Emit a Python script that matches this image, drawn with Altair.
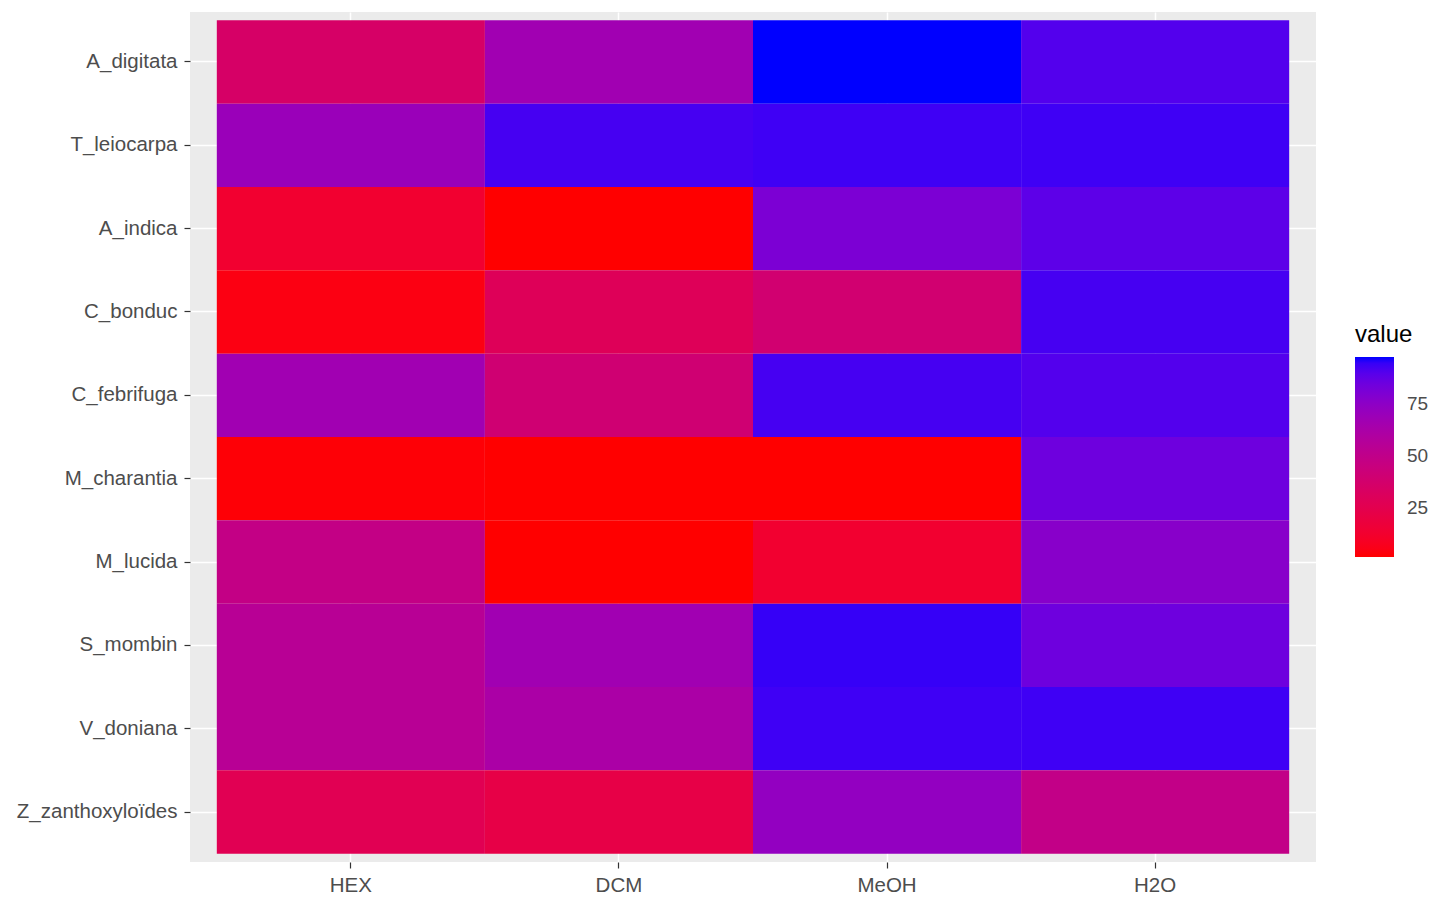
import altair as alt
import pandas as pd

# species (top to bottom) and extract types (left to right)
species = ["A_digitata", "T_leiocarpa", "A_indica", "C_bonduc", "C_febrifuga",
           "M_charantia", "M_lucida", "S_mombin", "V_doniana", "Z_zanthoxyloïdes"]
extracts = ["HEX", "DCM", "MeOH", "H2O"]

hex_vals = [35, 70, 13, 4, 67, 2, 48, 55, 55, 27]
dcm_vals = [67, 93, 1, 29, 40, 1, 1, 67, 62, 22]
meoh_vals = [98, 94, 81, 39, 93, 1, 13, 95, 94, 73]
h2o_vals = [91, 94, 89, 93, 91, 85, 77, 85, 94, 49]

rows = []
for col, vals in zip(extracts, [hex_vals, dcm_vals, meoh_vals, h2o_vals]):
    for sp, v in zip(species, vals):
        rows.append({"variable": col, "species": sp, "value": v})
df = pd.DataFrame(rows)

chart = alt.Chart(df).mark_rect().encode(
    x=alt.X("variable:N", sort=extracts, title=None,
            scale=alt.Scale(paddingInner=0, paddingOuter=0.1),
            axis=alt.Axis(labelAngle=0, bandPosition=0.5, zindex=0)),
    y=alt.Y("species:N", sort=species, title=None,
            scale=alt.Scale(paddingInner=0, paddingOuter=0.1),
            axis=alt.Axis(bandPosition=0.5, zindex=0)),
    color=alt.Color("value:Q",
                    scale=alt.Scale(range=["#FF0000", "#0000FF"], interpolate="lab",
                                    zero=False, nice=False),
                    legend=alt.Legend(title="value", values=[25, 50, 75],
                                      orient="none", legendX=1165, legendY=311,
                                      gradientLength=200, gradientThickness=39,
                                      gradientStrokeWidth=0, titlePadding=10,
                                      titleFontSize=24, titleFontWeight="normal",
                                      titleColor="#000000", labelFontSize=19,
                                      labelColor="#4D4D4D", labelOffset=13)),
).properties(
    width=1126, height=850,
    autosize=alt.AutoSizeParams(type="none"),
    padding={"left": 182, "top": 4, "right": 114, "bottom": 47},
).configure(
    font="Liberation Sans",
).configure_view(
    fill="#EBEBEB", strokeWidth=0,
).configure_axis(
    domain=False, grid=True, gridColor="#FFFFFF", gridWidth=1.5,
    tickColor="#333333", tickSize=6, tickWidth=1.2,
    labelColor="#4D4D4D", labelFontSize=20.5, labelPadding=7,
)

chart.save("out.html", embed_options={"renderer": "svg", "actions": False})
